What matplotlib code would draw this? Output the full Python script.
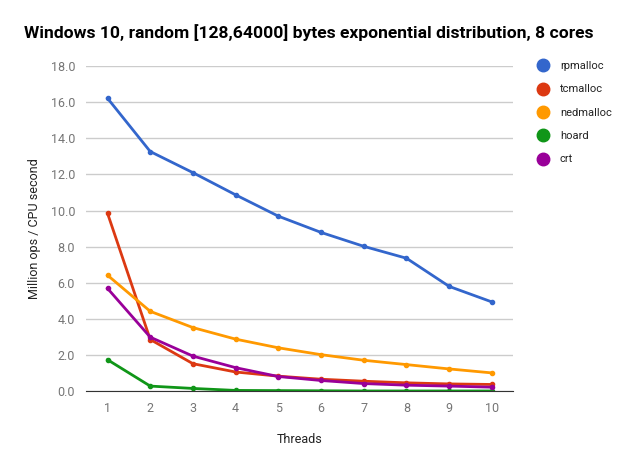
import matplotlib
matplotlib.use("Agg")
import matplotlib.pyplot as plt
from matplotlib.lines import Line2D

plt.rcParams["font.family"] = ["Roboto", "DejaVu Sans"]

threads = [1, 2, 3, 4, 5, 6, 7, 8, 9, 10]
rpmalloc = [16.22, 13.27, 12.10, 10.87, 9.69, 8.79, 8.02, 7.36, 5.80, 4.94]
tcmalloc = [9.85, 2.86, 1.52, 1.06, 0.83, 0.66, 0.55, 0.46, 0.40, 0.37]
nedmalloc = [6.42, 4.42, 3.52, 2.88, 2.40, 2.02, 1.71, 1.47, 1.23, 1.01]
hoard = [1.74, 0.28, 0.15, 0.04, 0.03, 0.02, 0.01, 0.01, 0.01, 0.01]
crt = [5.69, 2.99, 1.94, 1.30, 0.81, 0.59, 0.42, 0.33, 0.28, 0.22]

names = ["rpmalloc", "tcmalloc", "nedmalloc", "hoard", "crt"]
series = [rpmalloc, tcmalloc, nedmalloc, hoard, crt]
colors = ["#3366cc", "#dc3912", "#ff9900", "#109618", "#990099"]
yticks = [0, 2, 4, 6, 8, 10, 12, 14, 16, 18]

fig = plt.figure(figsize=(6.29, 4.69), dpi=100)
ax = fig.add_axes([0.137, 0.166, 0.679, 0.693])

for vals, c, n in zip(series, colors, names):
    ax.plot(threads, vals, color=c, linewidth=2, marker="o", markersize=3, label=n)

ax.set_xlim(0.5, 10.5)
ax.set_ylim(0, 18)
ax.set_yticks(yticks)
ax.set_yticklabels(["%.1f" % v for v in yticks])
ax.set_xticks(threads)
ax.grid(axis="y", color="#cccccc", linewidth=1)
ax.set_axisbelow(True)
for s in ["top", "right", "left"]:
    ax.spines[s].set_visible(False)
ax.spines["bottom"].set_color("#333333")
ax.tick_params(axis="both", length=0, labelsize=9, colors="#757575", pad=8)

ax.set_xlabel("Threads", fontsize=9, color="#222222", labelpad=13)
ax.set_ylabel("Million ops / CPU second", fontsize=9, color="#222222", labelpad=7)

fig.text(0.038, 0.93, "Windows 10, random [128,64000] bytes exponential distribution, 8 cores",
         fontsize=12.6, fontweight="bold", color="#000000", va="center")

handles = [Line2D([], [], linestyle="none", marker="o", markersize=9, color=c) for c in colors]
fig.legend(handles, names, loc="upper left", bbox_to_anchor=(0.83, 0.891),
           frameon=False, fontsize=8, labelspacing=1.2, handletextpad=0.5,
           labelcolor="#222222")

plt.savefig("out.png", dpi=100)
